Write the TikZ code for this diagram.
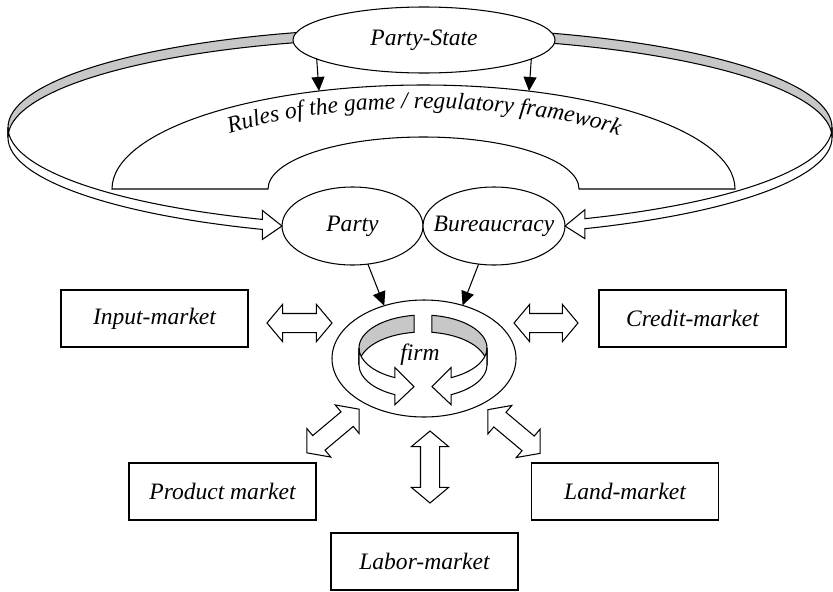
\documentclass[tikz,border=0pt]{standalone}
\usepackage{fontspec}
\setmainfont{Liberation Serif}
\usetikzlibrary{positioning, arrows.meta, shapes, calc, decorations.text}

\begin{document}
\begin{tikzpicture}[
    x=0.2mm, y=-0.2mm,
    line width=0.6pt,
    font=\itshape\fontsize{13.4}{16}\selectfont,
    blob/.style={ellipse, draw, fill=white, inner sep=0pt, outer sep=0pt},
    market/.style={rectangle, draw, fill=white, minimum width=37.4mm, minimum height=11.4mm, inner sep=0pt},
    twoway/.style={double arrow, draw, fill=white, minimum width=7.2mm, double arrow head extend=1.8mm, double arrow tip angle=100, inner xsep=0pt, inner ysep=1.8mm},
    arrow/.style={-{Triangle[length=2.8mm, width=2.6mm]}},
    band/.style={draw, fill=black!22},
    ribbon/.style={draw, fill=white}
]
\useasboundingbox (0,0) rectangle (833,591);

% Big ring: upper edge A, lower edge B
\coordinate (ringA) at (420,127.5);
\coordinate (ringB) at (420,137.5);
\draw[band] (ringA) ++(253.1:412 and 99.5) arc[start angle=253.1, end angle=180, x radius=412, y radius=99.5]
    -- ++(0,10) arc[start angle=180, end angle=253.1, x radius=412, y radius=99.5] -- cycle;
\draw[band] (ringA) ++(288.1:412 and 99.5) arc[start angle=288.1, end angle=360, x radius=412, y radius=99.5]
    -- ++(0,10) arc[start angle=360, end angle=288.1, x radius=412, y radius=99.5] -- cycle;

% Rules of the game
\draw[fill=white] (112,189) arc[start angle=180, end angle=360, x radius=311.5, y radius=104]
    -- (579,189) arc[start angle=0, end angle=-180, x radius=155.5, y radius=52] -- cycle;
\coordinate (rulesL) at (319,91);
\coordinate (rulesR) at (529,91);
\path[decorate, decoration={text along path, text align=center,
    text={|\itshape\fontsize{13.4}{16}\selectfont|Rules of the game / regulatory framework}}]
    (222,136) .. controls (330,99) and (520,99) .. (626,138);

% Party-State
\node[blob, minimum width=52.4mm, minimum height=13.2mm] (ps) at (424,40) {Party-State};
\draw[arrow] (ps.190.6) -- (rulesL);
\draw[arrow] (ps.-10.6) -- (rulesR);

% Party and bureaucracy
\node[blob, minimum width=28.2mm, minimum height=15.6mm] (party) at (352.5,226) {Party};
\node[blob, minimum width=28.4mm, minimum height=15.6mm, label=center:Bureaucracy] (bur) at (494,226) {};

% Lower part of the ring, ending in open arrows
\draw[ribbon] (ringA) ++(180:412 and 99.5) arc[start angle=180, end angle=112.5, x radius=412, y radius=99.5] coordinate (bl1)
    -- ++(0,-9) -- (party.west) -- ($(bl1)+(0,20)$) -- ($(bl1)+(0,10)$)
    arc[start angle=112.5, end angle=180, x radius=412, y radius=99.5] -- cycle;
\draw[ribbon] (ringA) ++(0:412 and 99.5) arc[start angle=0, end angle=66.4, x radius=412, y radius=99.5] coordinate (br1)
    -- ++(0,-9) -- (bur.east) -- ($(br1)+(0,20)$) -- ($(br1)+(0,10)$)
    arc[start angle=66.4, end angle=0, x radius=412, y radius=99.5] -- cycle;

% Firm
\node[blob, minimum width=36.8mm, minimum height=23.4mm] (firm) at (424,358.5) {};
\node (firmtext) at (420,355) {firm};
\draw[arrow] (party.-68) -- (firm.127.5);
\draw[arrow] (bur.-112) -- (firm.54);

% Circular arrows inside the firm
\coordinate (topc) at (423,348);
\draw[band] (topc) ++(262:64 and 33) arc[start angle=262, end angle=180, x radius=64, y radius=33]
    -- ++(0,17) arc[start angle=180, end angle=262, x radius=64, y radius=33] -- cycle;
\draw[band] (topc) ++(278:64 and 33) arc[start angle=278, end angle=360, x radius=64, y radius=33]
    -- ++(0,17) arc[start angle=360, end angle=278, x radius=64, y radius=33] -- cycle;
\draw[ribbon] (topc) ++(180:64 and 33) arc[start angle=180, end angle=116, x radius=64, y radius=33] coordinate (fl)
    -- ++(0,-10) -- ++(19,19) -- ($(fl)+(0,27)$) -- ($(fl)+(0,17)$)
    arc[start angle=116, end angle=180, x radius=64, y radius=33] -- cycle;
\draw[ribbon] (topc) ++(0:64 and 33) arc[start angle=0, end angle=64, x radius=64, y radius=33] coordinate (fr)
    -- ++(0,-10) -- ++(-19,19) -- ($(fr)+(0,27)$) -- ($(fr)+(0,17)$)
    arc[start angle=64, end angle=0, x radius=64, y radius=33] -- cycle;

% Markets
\node[market] (inmk) at (154.5,318.5) {Input-market};
\node[market] (crmk) at (692.5,318.5) {Credit-market};
\node[market] (prmk) at (222.5,491.5) {Product market};
\node[market] (ldmk) at (625,491.5) {Land-market};
\node[market] (lbmk) at (424.5,561.5) {Labor-market};

% Two-way links
\node[twoway, minimum height=13mm] (inlink) at (299.5,323) {};
\node[twoway, minimum height=12.8mm] (crlink) at (546,323) {};
\node[twoway, minimum height=13.6mm, rotate=40] (prlink) at (333,431) {};
\node[twoway, minimum height=13.6mm, rotate=-40] (ldlink) at (514,431.5) {};
\node[twoway, minimum height=14.4mm, rotate=90] (lblink) at (430,467) {};

\end{tikzpicture}
\end{document}
